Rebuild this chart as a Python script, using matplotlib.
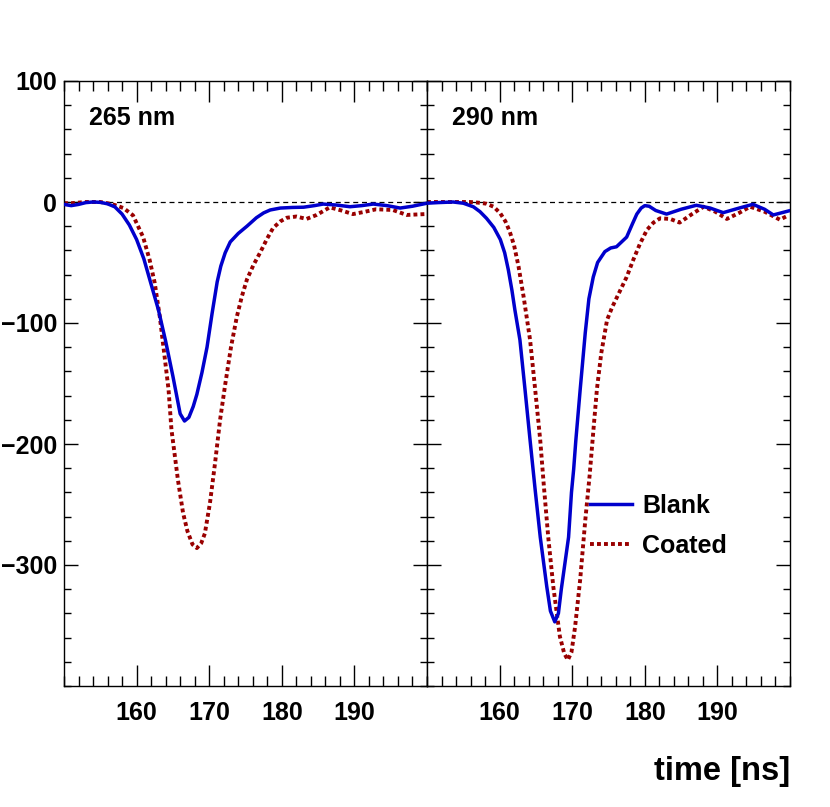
import matplotlib
matplotlib.use("Agg")
import matplotlib.pyplot as plt
from matplotlib.ticker import MultipleLocator, FixedLocator

plt.rcParams['font.family'] = ['Liberation Sans', 'DejaVu Sans']
plt.rcParams['font.weight'] = 'bold'

# 265 nm panel
t_blank_265 = [150, 151, 152, 153, 154, 155, 156, 157, 158, 159, 160, 161, 162, 163, 164, 165,
               166.0, 166.6, 167.2, 167.8, 168.3, 169.0, 169.7, 170.4, 171.1, 171.6, 172.2, 172.9,
               174.0, 175.2, 176.5, 177.5, 178.4, 179.8, 181.5, 183.0, 184.5, 185.7, 187.5, 189.4,
               191.0, 192.6, 194.5, 196.3, 198.0, 200]
v_blank_265 = [-2, -3, -2, -0.5, 0, -0.3, -1.5, -4, -10, -19, -31, -47, -68, -89, -115, -144,
               -175, -181, -178, -169, -159, -141, -120, -92, -66, -53, -42, -33,
               -26, -20, -13, -9, -6.6, -5, -4.5, -4.3, -3, -1.7, -2.5, -3.9,
               -3, -1.7, -3, -5, -3.5, -1]

t_coated_265 = [150, 151, 152, 153, 154, 155, 156, 157, 158.2, 159.5, 160.9, 161.8, 162.5, 163.2,
                163.7, 164.4, 164.8, 165.1, 165.7, 166.4, 167.0, 167.7, 168.3, 168.9, 169.4, 170.1,
                170.8, 171.5, 172.2, 173.0, 173.8, 174.5, 175.2, 176.1, 177.0, 178.0, 178.8, 179.8,
                180.7, 182.0, 183.4, 184.8, 186.6, 188.2, 189.8, 191.5, 193.0, 195.3, 197.2, 199.7]
v_coated_265 = [-1, -1, -0.5, 0, 0, 0, -1, -2.5, -5, -11, -29, -48, -67, -95,
                -120, -155, -188, -202, -230, -257, -272, -283, -286, -282, -274, -249,
                -216, -180, -151, -120, -95, -78, -64, -52, -42, -30, -21.5, -16,
                -13, -12, -14, -10.7, -4.4, -7, -10, -8, -6, -6.6, -10.7, -10]

# 290 nm panel
t_blank_290 = [150, 151.5, 153.6, 155, 156.4, 157.3, 158.2, 159.2, 160.1, 160.7, 161.2, 161.7,
               162.1, 162.8, 163.5, 164.2, 164.9, 165.6, 166.5, 167.0, 167.6, 168.1, 168.5, 169.5,
               169.9, 170.2, 170.5, 171.1, 171.8, 172.3, 172.9, 173.5, 174.5, 175.3, 176.1, 176.8,
               177.5, 178.3, 178.9, 179.5, 180.0, 180.6, 181.5, 183.0, 185.0, 187.1, 189.0, 190.8,
               193.0, 194.9, 196.5, 197.7, 199.8]
v_blank_290 = [-1, -0.5, 0, -1, -4, -8, -13.5, -21, -31, -42, -56, -73,
               -89, -114, -155, -197, -238, -277, -318, -338, -347, -340, -320, -277,
               -240, -221, -197, -155, -108, -80, -62, -50, -41, -38, -37, -33,
               -29, -18, -10, -5, -3, -3.5, -7, -10, -6, -2.7, -5, -8.8,
               -5, -1.9, -6, -10.7, -7.4]

t_coated_290 = [150, 152, 154, 155.9, 157, 158.2, 159.2, 160.1, 160.8, 161.4, 162.0, 162.6,
                163.3, 164.2, 164.9, 165.6, 166.1, 166.7, 167.4, 168.3, 168.9, 169.4, 169.9, 170.4,
                171.1, 171.8, 172.4, 173.0, 173.4, 174.0, 174.8, 175.5, 176.3, 177.5, 178.4, 179.3,
                180.3, 181.2, 182.1, 183.5, 184.8, 186.5, 188.1, 189.7, 191.3, 193.0, 194.5, 196.5,
                198.6, 199.8]
v_coated_290 = [0, 0, 0, 0, -0.5, -1.4, -4, -9.4, -16, -24.5, -36, -53,
                -78, -114, -155, -197, -235, -277, -318, -359, -373, -378.5, -372, -351,
                -312, -263, -226, -183, -155, -125, -97.5, -87, -77, -62, -48, -35,
                -23, -17, -13.5, -14, -17, -10, -3.9, -8, -14, -9, -3.9, -8,
                -14.6, -11]

panels = [("265 nm", t_blank_265, v_blank_265, t_coated_265, v_coated_265),
          ("290 nm", t_blank_290, v_blank_290, t_coated_290, v_coated_290)]

blue = '#0000cc'
red = '#990000'

fig = plt.figure(figsize=(8.3, 8.07), dpi=100)
W, H = 830, 807
x0, xm, x1 = 64, 427, 790
ytop, ybot = 81, 686

for i, (label, tb, vb, tc, vc) in enumerate(panels):
    left = (x0 if i == 0 else xm) / W
    ax = fig.add_axes([left, 1 - ybot / H, (xm - x0) / W, (ybot - ytop) / H])
    ax.axhline(0, color='black', lw=0.9, ls=(0, (4, 3)), zorder=1)
    ax.plot(tb, vb, color=blue, lw=2.5, label='Blank', zorder=3)
    ax.plot(tc, vc, color=red, lw=2.8, ls=(0, (1.0, 0.8)), label='Coated',
            zorder=2, dash_capstyle='butt')
    ax.set_xlim(150, 200)
    ax.set_ylim(-400, 100)
    ax.xaxis.set_major_locator(FixedLocator([160, 170, 180, 190]))
    ax.xaxis.set_minor_locator(MultipleLocator(2))
    ax.yaxis.set_major_locator(FixedLocator([-300, -200, -100, 0, 100]))
    ax.yaxis.set_minor_locator(MultipleLocator(20))
    ax.tick_params(which='both', direction='in', top=True, right=True, width=1.0,
                   labelsize=18, colors='black')
    ax.tick_params(axis='x', which='major', length=15, pad=11)
    ax.tick_params(axis='x', which='minor', length=7.5)
    ax.tick_params(axis='y', which='major', length=10, pad=5)
    ax.tick_params(axis='y', which='minor', length=5)
    for s in ax.spines.values():
        s.set_linewidth(1.0)
    ax.text(0.07, 0.928, label, transform=ax.transAxes, fontsize=18, fontweight='bold',
            va='baseline', ha='left')
    if i == 1:
        ax.tick_params(axis='y', labelleft=False)
        leg = ax.legend(loc='upper left', bbox_to_anchor=(0.449, 0.317), frameon=False,
                        prop={'size': 18, 'weight': 'bold'}, handlelength=1.7,
                        handletextpad=0.4, borderpad=0, borderaxespad=0, labelspacing=0.62)

fig.text(x1 / W, 1 - 780 / H, 'time [ns]', ha='right', va='baseline',
         fontsize=23.5, fontweight='bold')

fig.savefig('out.png', dpi=100)
